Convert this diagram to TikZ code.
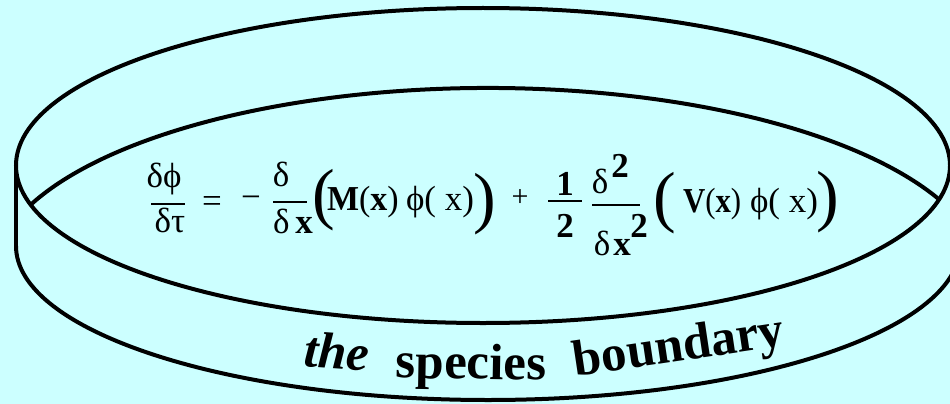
\documentclass[tikz,border=0pt]{standalone}
\usepackage{fontspec}
\setmainfont{Liberation Serif}
\definecolor{bgc}{RGB}{204,255,255}
\begin{document}
\begin{tikzpicture}[x=1pt,y=-1pt,
  rim/.style={line width=4pt, black},
  eq/.style={inner sep=0pt, outer sep=0pt, font=\fontsize{35}{40}\selectfont},
  bigp/.style={inner sep=0pt, outer sep=0pt, font=\fontsize{68}{80}\selectfont},
  fbar/.style={line width=2pt},
  lbl/.style={inner sep=0pt, outer sep=0pt, font=\fontsize{51}{60}\selectfont\bfseries}]
\useasboundingbox (0,0) rectangle (950,404);
\fill[bgc] (0,0) rectangle (950,404);
% top rim
\draw[rim] (483,165.5) ellipse [x radius=467, y radius=157.5];
\begin{scope}
  \clip (483,165.5) ellipse [x radius=467, y radius=157.5];
  \draw[rim] (488,280) ++(195:497 and 192) arc[start angle=195, end angle=345, x radius=497, y radius=192];
\end{scope}
% side and bottom rim
\draw[rim] (16,165.5) -- (16,246);
\draw[rim] (16,246) arc[start angle=180, end angle=0, x radius=472, y radius=154];
% equation
\node[eq, anchor=base] (n1) at (164,187) {δϕ};
\draw[fbar] (151,204) -- (185,204);
\node[eq, anchor=base] (d1) at (170,232) {δτ};
\node[eq] (eqs) at (212,204) {=};
\node[eq] (mn) at (251,202) {−};
\node[eq, anchor=base] (n2) at (281,186) {δ};
\draw[fbar] (273,202) -- (307,202);
\node[eq, anchor=base] (d2) at (293,233) {δ\,\textbf{x}};
\node[bigp] (p1) at (324,200) {(};
\node[eq, anchor=base west] (m) at (327,210) {\scalebox{0.97}[1]{\textbf{M}(\textbf{x})}};
\node[eq, anchor=base west] (f1) at (406,210) {ϕ( x)};
\node[bigp] (p2) at (485,204) {)};
\node[eq, font=\fontsize{30}{34}\selectfont] (pl) at (520,198) {+};
\node[eq, anchor=base] (one) at (565,195) {\textbf{1}};
\draw[fbar] (548,201) -- (582,201);
\node[eq, anchor=base] (two) at (565,237) {\textbf{2}};
\node[eq, anchor=base] (n3) at (600,193) {δ};
\node[eq, anchor=base] (n3s) at (620,177) {\textbf{2}};
\draw[fbar] (592,205) -- (640,205);
\node[eq, anchor=base] (d3a) at (602,255) {δ};
\node[eq, anchor=base] (d3b) at (622,255) {\textbf{x}};
\node[eq, anchor=base] (d3s) at (639,237) {\textbf{2}};
\node[bigp] (p3) at (665,203) {(};
\node[eq, anchor=base west] (v) at (683,212) {\scalebox{0.88}[1]{\textbf{V}(\textbf{x})}};
\node[eq, anchor=base west] (f2) at (750,212) {ϕ( x)};
\node[bigp] (p4) at (828,202) {)};
% label
\node[lbl, font=\fontsize{51}{60}\selectfont\bfseries\itshape, anchor=base, rotate=-4] (the) at (336,369) {the};
\node[lbl, anchor=base, rotate=-1] (sp) at (471,379) {species};
\node[lbl, anchor=base, rotate=8.5] (bd) at (681,361) {boundary};
\end{tikzpicture}
\end{document}
